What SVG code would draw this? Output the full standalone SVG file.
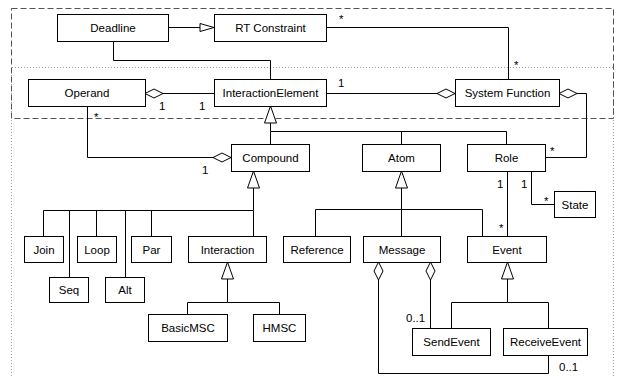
<svg xmlns="http://www.w3.org/2000/svg" width="617" height="376" viewBox="0 0 617 376">
<style>
.box rect{fill:#fff;stroke:#000;stroke-width:1}
.box text,.lbl{font-family:"Liberation Sans",Arial,sans-serif;font-size:11.5px;fill:#000}
.box text{text-anchor:middle}
.c path{fill:none;stroke:#000;stroke-width:1}
.frame{fill:none;stroke:#555;stroke-width:1;stroke-dasharray:6,3}
.dot{fill:none;stroke:#999;stroke-width:1;stroke-dasharray:1,2}
</style>
<defs>
<marker id="gen" markerUnits="userSpaceOnUse" markerWidth="20" markerHeight="14" viewBox="0 -7 20 14" refX="0" refY="0" orient="auto" overflow="visible">
<path d="M0,0 L17,-6 L17,6 Z" fill="#fff" stroke="#000" stroke-width="1"/>
</marker>
<marker id="dia" markerUnits="userSpaceOnUse" markerWidth="20" markerHeight="12" viewBox="0 -6 20 12" refX="0" refY="0" orient="auto" overflow="visible">
<path d="M0,0 L9,-4.5 L18,0 L9,4.5 Z" fill="#fff" stroke="#000" stroke-width="1"/>
</marker>
<marker id="tri" markerUnits="userSpaceOnUse" markerWidth="16" markerHeight="10" viewBox="-16 -5 16 10" refX="0" refY="0" orient="auto" overflow="visible">
<path d="M0,0 L-14,-4 L-14,4 Z" fill="#fff" stroke="#000" stroke-width="1"/>
</marker>
</defs>
<rect width="617" height="376" fill="#fff"/>
<g id="frames">
<path class="dot" d="M11.5,376 V67.5 H613.5 V376"/>
<rect class="frame" x="11.5" y="8.5" width="602" height="110"/>
</g>
<g id="connectors" class="c">
<path d="M168,27.5 H214" marker-end="url(#tri)"/>
<path d="M113.5,41 V60.5 H270.5 V79"/>
<path d="M326,27.5 H508.5 V79"/>
<path d="M145,93.5 H214" marker-start="url(#dia)"/>
<path d="M455,93.5 H326" marker-start="url(#dia)"/>
<path d="M559,93.5 H586.5 V157.5 H545"/>
<path d="M559,93.5 H578" marker-start="url(#dia)"/>
<path d="M231,157.5 H87.5 V106"/>
<path d="M231,157.5 H213" marker-start="url(#dia)"/>
<path d="M270.5,106 V131.5 M270.5,131.5 H506.5 M270.5,131.5 V144 M401.5,131.5 V144 M506.5,131.5 V144"/>
<path d="M270.5,106 V120" marker-start="url(#gen)"/>
<path d="M253.5,171 V210.5 H43.5 V236 M69.5,210.5 V277 M96.5,210.5 V236 M125.5,210.5 V277 M151.5,210.5 V236 M253.5,210.5 V236"/>
<path d="M253.5,171 V185" marker-start="url(#gen)"/>
<path d="M401.5,171 V209.5 H315.5 V236 M401.5,209.5 V236 M401.5,209.5 H482.5 V236"/>
<path d="M401.5,171 V185" marker-start="url(#gen)"/>
<path d="M507.5,171 V236"/>
<path d="M531.5,171 V204.5 H554"/>
<path d="M227.5,262 V302.5 H187.5 V314 M227.5,302.5 H279.5 V314"/>
<path d="M227.5,262 V276" marker-start="url(#gen)"/>
<path d="M507.5,262 V302.5 H451.5 V328 M507.5,302.5 H548.5 V328"/>
<path d="M507.5,262 V276" marker-start="url(#gen)"/>
<path d="M430.5,262 V328" marker-start="url(#dia)"/>
<path d="M378.5,262 V373.5 H548.5 V355" marker-start="url(#dia)"/>
</g>
<g id="labels" class="lbl">
<text x="339" y="23">*</text>
<text x="514" y="69">*</text>
<text x="159" y="110">1</text>
<text x="199" y="110">1</text>
<text x="338" y="87">1</text>
<text x="94" y="121">*</text>
<text x="202" y="174">1</text>
<text x="550" y="155">*</text>
<text x="497" y="188">1</text>
<text x="521" y="188">1</text>
<text x="499" y="232">*</text>
<text x="544" y="205">*</text>
<text x="406" y="322">0..1</text>
<text x="559" y="371">0..1</text>
</g>
<g id="Deadline" class="box"><rect x="57.5" y="14.5" width="111" height="27"/><text x="113" y="32">Deadline</text></g>
<g id="RTConstraint" class="box"><rect x="214.5" y="14.5" width="112" height="27"/><text x="270.5" y="32">RT Constraint</text></g>
<g id="Operand" class="box"><rect x="28.5" y="79.5" width="117" height="27"/><text x="87" y="97">Operand</text></g>
<g id="InteractionElement" class="box"><rect x="214.5" y="79.5" width="112" height="27"/><text x="270.5" y="97">InteractionElement</text></g>
<g id="SystemFunction" class="box"><rect x="455.5" y="79.5" width="104" height="27"/><text x="507.5" y="97">System Function</text></g>
<g id="Compound" class="box"><rect x="231.5" y="144.5" width="78" height="27"/><text x="270.5" y="162">Compound</text></g>
<g id="Atom" class="box"><rect x="362.5" y="144.5" width="78" height="27"/><text x="401.5" y="162">Atom</text></g>
<g id="Role" class="box"><rect x="467.5" y="144.5" width="78" height="27"/><text x="506.5" y="162">Role</text></g>
<g id="State" class="box"><rect x="554.5" y="191.5" width="41" height="26"/><text x="575" y="208.5">State</text></g>
<g id="Join" class="box"><rect x="24.5" y="236.5" width="39" height="26"/><text x="44" y="253.5">Join</text></g>
<g id="Loop" class="box"><rect x="77.5" y="236.5" width="39" height="26"/><text x="97" y="253.5">Loop</text></g>
<g id="Par" class="box"><rect x="131.5" y="236.5" width="40" height="26"/><text x="151.5" y="253.5">Par</text></g>
<g id="Interaction" class="box"><rect x="188.5" y="236.5" width="78" height="26"/><text x="227.5" y="253.5">Interaction</text></g>
<g id="Reference" class="box"><rect x="283.5" y="236.5" width="67" height="26"/><text x="317" y="253.5">Reference</text></g>
<g id="Message" class="box"><rect x="363.5" y="236.5" width="77" height="26"/><text x="402" y="253.5">Message</text></g>
<g id="Event" class="box"><rect x="467.5" y="236.5" width="79" height="26"/><text x="507" y="253.5">Event</text></g>
<g id="Seq" class="box"><rect x="49.5" y="277.5" width="39" height="25"/><text x="69" y="294">Seq</text></g>
<g id="Alt" class="box"><rect x="105.5" y="277.5" width="39" height="25"/><text x="125" y="294">Alt</text></g>
<g id="BasicMSC" class="box"><rect x="148.5" y="314.5" width="79" height="27"/><text x="188" y="332">BasicMSC</text></g>
<g id="HMSC" class="box"><rect x="253.5" y="314.5" width="52" height="27"/><text x="279.5" y="332">HMSC</text></g>
<g id="SendEvent" class="box"><rect x="412.5" y="328.5" width="78" height="27"/><text x="451.5" y="346">SendEvent</text></g>
<g id="ReceiveEvent" class="box"><rect x="503.5" y="328.5" width="84" height="27"/><text x="545.5" y="346">ReceiveEvent</text></g>
</svg>
